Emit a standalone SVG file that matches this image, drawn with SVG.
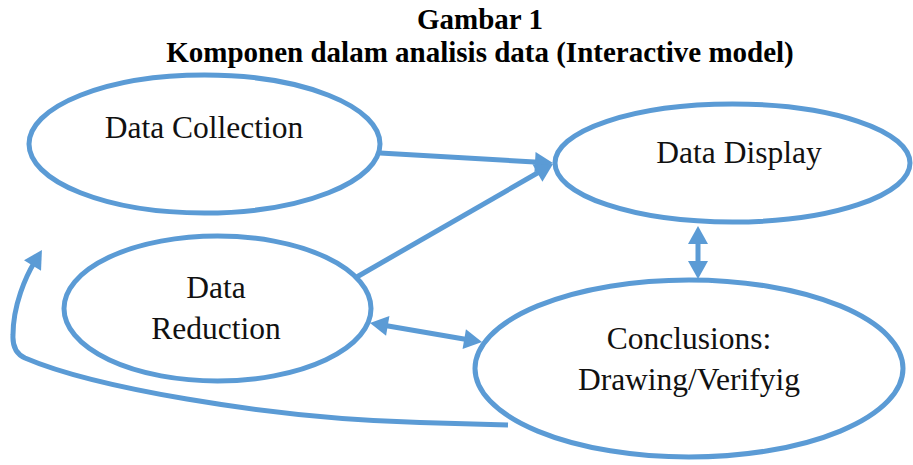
<svg xmlns="http://www.w3.org/2000/svg" width="913" height="465" viewBox="0 0 913 465">
<style>
.node{fill:#fff;stroke:#5B9BD5;stroke-width:5}
.lbl{font-family:"Liberation Serif","Times New Roman",serif;font-size:31.5px;fill:#111;text-anchor:middle}
.title{font-family:"Liberation Serif","Times New Roman",serif;font-size:29px;font-weight:bold;fill:#000;text-anchor:middle}
.edge{fill:none;stroke:#5B9BD5;stroke-width:5}
</style>
<defs>
<marker id="ah" markerUnits="userSpaceOnUse" markerWidth="20" markerHeight="20" viewBox="0 0 18 20" refX="4" refY="10" orient="auto-start-reverse">
<path d="M0,0 L18,10 L0,20 z" fill="#5B9BD5"/>
</marker>
</defs>
<rect width="913" height="465" fill="#fff"/>
<g id="title">
<text class="title" x="480" y="29">Gambar 1</text>
<text class="title" x="480" y="62">Komponen dalam analisis data (Interactive model)</text>
</g>
<g id="data-collection">
<ellipse class="node" cx="204.5" cy="144" rx="175.5" ry="69"/>
<text class="lbl" x="204" y="138">Data Collection</text>
</g>
<g id="data-display">
<ellipse class="node" cx="732.5" cy="163" rx="177.5" ry="59"/>
<text class="lbl" x="739" y="163">Data Display</text>
</g>
<g id="data-reduction">
<ellipse class="node" cx="217.5" cy="308.5" rx="153.5" ry="72.5"/>
<text class="lbl" x="216" y="298">Data</text>
<text class="lbl" x="216" y="339">Reduction</text>
</g>
<g id="conclusions">
<ellipse class="node" cx="689" cy="368.5" rx="214" ry="88.5"/>
<text class="lbl" x="689" y="349">Conclusions:</text>
<text class="lbl" x="689" y="390">Drawing/Verifyig</text>
</g>
<g id="connectors">
<line class="edge" x1="380" y1="153" x2="539" y2="162.2" marker-end="url(#ah)"/>
<line class="edge" x1="355" y1="278" x2="540.9" y2="171" marker-end="url(#ah)"/>
<line class="edge" x1="383.8" y1="325.3" x2="468.2" y2="339.7" marker-start="url(#ah)" marker-end="url(#ah)"/>
<line class="edge" x1="698" y1="240" x2="698" y2="265" marker-start="url(#ah)" marker-end="url(#ah)"/>
<path class="edge" d="M508,425 L420,422.5 C260,418 90,386 25,358 Q12,352 13,335 C13,305 26,276 34.6,262" marker-end="url(#ah)"/>
</g>
</svg>
